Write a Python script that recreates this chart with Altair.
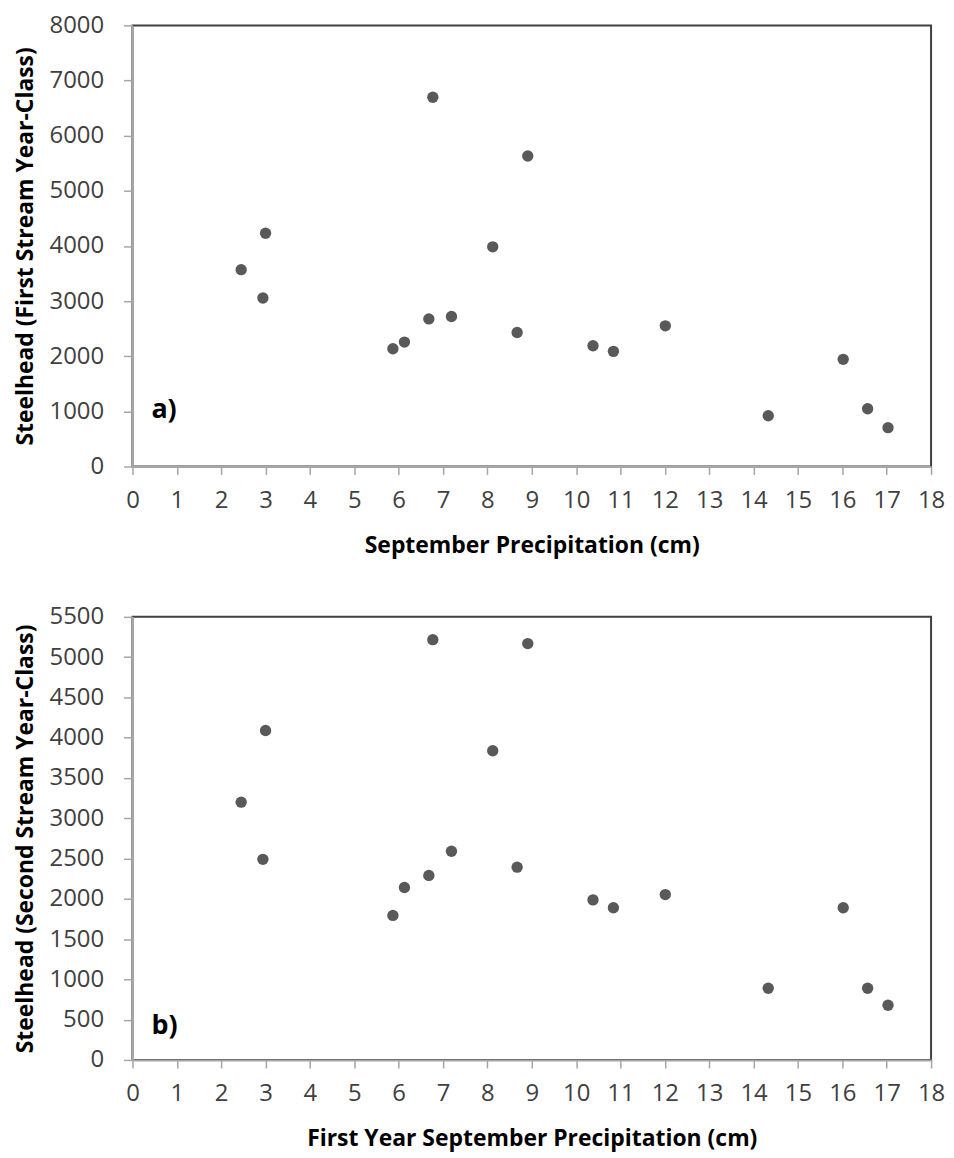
import altair as alt
import pandas as pd

# Data
precip = [2.45, 3.00, 2.94, 5.87, 6.13, 6.68, 7.19, 6.77, 8.12, 8.91,
          8.67, 10.38, 10.84, 12.01, 14.33, 16.02, 16.57, 17.03]
first_year_class = [3570, 4230, 3056, 2135, 2256, 2677, 2720, 6697, 3984, 5632,
                    2431, 2190, 2088, 2551, 921, 1944, 1047, 704]
second_year_class = [3200, 4090, 2490, 1794, 2141, 2291, 2591, 5217, 3838, 5168,
                     2393, 1987, 1890, 2053, 890, 1890, 890, 679]

x_ticks = list(range(0, 19))
y_ticks_a = list(range(0, 8001, 1000))
y_ticks_b = list(range(0, 5501, 500))

df_a = pd.DataFrame({"precip": precip, "steelhead": first_year_class})
df_b = pd.DataFrame({"precip": precip, "steelhead": second_year_class})

FONT = "Open Sans"
POINT_COLOR = "#595959"


def panel(df, y_max, y_ticks, x_title, y_title, tag, tag_y, height):
    x_axis = alt.Axis(
        values=x_ticks, title=x_title, grid=False, format="d",
        domainColor="#a6a6a6", domainWidth=2, tickColor="#a6a6a6",
        tickSize=8, tickWidth=1.5, labelPadding=14, titlePadding=22,
        labelFontSize=24, labelColor="#404040", labelFont=FONT,
        titleFontSize=23, titleFont=FONT, titleFontWeight="bold",
        titleColor="#000000", labelFlush=False,
    )
    y_axis = alt.Axis(
        values=y_ticks, title=y_title, grid=False, format="d",
        domainColor="#a6a6a6", domainWidth=2, tickColor="#a6a6a6",
        tickSize=9, tickWidth=1.5, labelPadding=20, titlePadding=12,
        labelFontSize=24, labelColor="#404040", labelFont=FONT,
        titleFontSize=23, titleFont=FONT, titleFontWeight="bold",
        titleColor="#000000", labelFlush=False,
    )
    pts = alt.Chart(df).mark_circle(size=130, color=POINT_COLOR, opacity=1).encode(
        x=alt.X("precip:Q", scale=alt.Scale(domain=[0, 18], nice=False, zero=False), axis=x_axis),
        y=alt.Y("steelhead:Q", scale=alt.Scale(domain=[0, y_max], nice=False), axis=y_axis),
    )
    label = alt.Chart(pd.DataFrame({"t": [tag]})).mark_text(
        font=FONT, fontSize=27, fontWeight="bold", color="#000000",
        align="left", baseline="middle",
    ).encode(text="t:N", x=alt.value(19), y=alt.value(tag_y))
    return alt.layer(pts, label).properties(width=802, height=height)


top = panel(df_a, 8000, y_ticks_a, "September Precipitation (cm)",
            "Steelhead (First Stream Year-Class)", "a)", 386, 443)
bottom = panel(df_b, 5500, y_ticks_b, "First Year September Precipitation (cm)",
               "Steelhead (Second Stream Year-Class)", "b)", 411, 445)

chart = alt.vconcat(top, bottom, spacing=46).configure_view(
    stroke="#404040", strokeWidth=2
).properties(padding={"left": 5, "top": 2, "right": 0, "bottom": 5})

chart.save("out.html", embed_options={"renderer": "svg", "actions": False})
